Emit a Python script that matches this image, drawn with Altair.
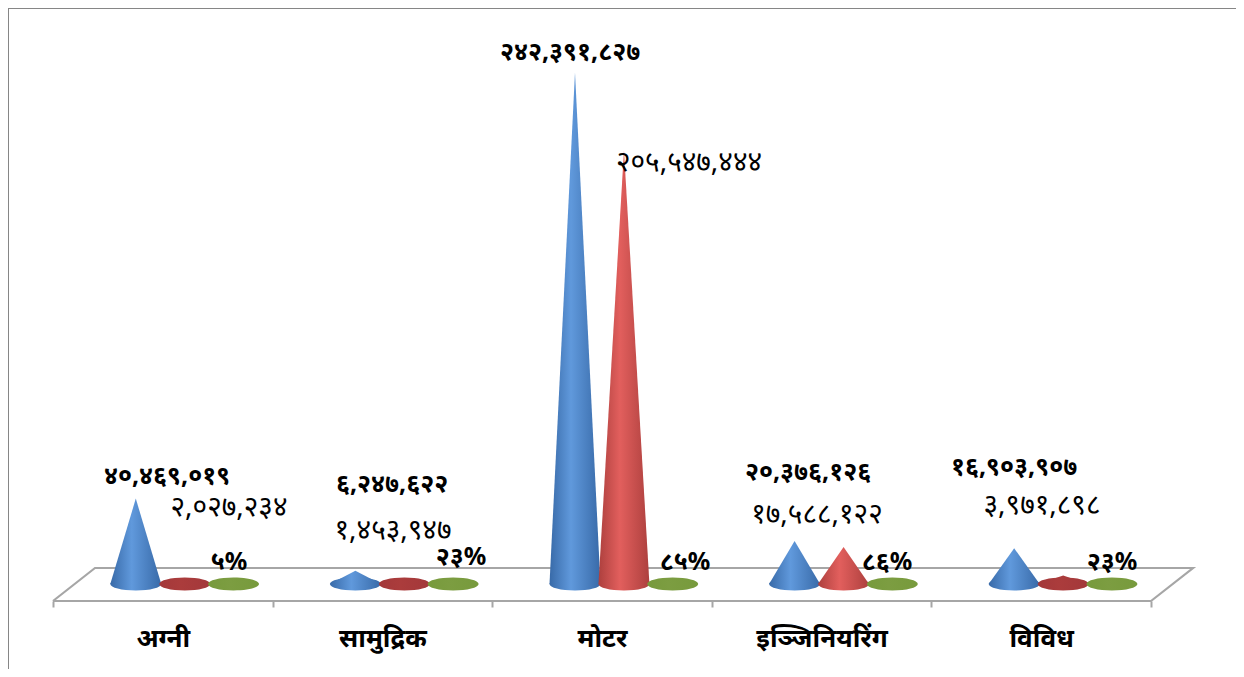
import json
import altair as alt
import pandas as pd

categories = ["अग्नी", "सामुद्रिक", "मोटर", "इञ्जिनियरिंग", "विविध"]
blue_values = [40469019, 6247622, 242391827, 20376126, 16903907]
red_values = [2027234, 1453947, 205547444, 17588122, 3971898]
green_values = [0.05, 0.23, 0.85, 0.86, 0.23]
blue_labels = ["४०,४६९,०१९", "६,२४७,६२२", "२४२,३९१,८२७", "२०,३७६,१२६", "१६,९०३,९०७"]
red_labels = ["२,०२७,२३४", "१,४५३,९४७", "२०५,५४७,४४४", "१७,५८८,१२२", "३,९७१,८९८"]
green_labels = ["५%", "२३%", "८५%", "८६%", "२३%"]

# layout (image pixels -> scale domains)
W, H = 1228, 593
PX_PER_CAT = 219.6
PX_PER_M = 2.11
X0_IMG, BASE_IMG = 53, 584
xdom = [(8 - X0_IMG) / PX_PER_CAT, (8 + W - X0_IMG) / PX_PER_CAT]
ydom = [(BASE_IMG - 601) / PX_PER_M, (BASE_IMG - 8) / PX_PER_M]
x_scale = alt.Scale(domain=xdom, nice=False, zero=False)
y_scale = alt.Scale(domain=ydom, nice=False, zero=False)
SERIES_POS = [0.377, 0.600, 0.822]
HALF = 0.116
GRAY = "#a6a6a6"


def grad(edge, mid):
    return alt.Gradient(
        gradient="linear", x1=0, x2=1, y1=0, y2=0,
        stops=[
            alt.GradientStop(color=edge, offset=0),
            alt.GradientStop(color=mid, offset=0.42),
            alt.GradientStop(color=edge, offset=1),
        ],
    )


BLUE = grad("#386aa8", "#6099dc")
RED = grad("#ad403e", "#e25f5d")
RED_FLAT = grad("#a3383a", "#ab3c3c")
GREEN = grad("#779a3c", "#7c9d41")

series = [
    (blue_values, 1e6, BLUE, blue_labels),
    (red_values, 1e6, RED, red_labels),
    (green_values, 1e6, GREEN, green_labels),
]

axis_vals = [v / 2 for v in range(11)]
label_expr = (
    "datum.value % 1 == 0 ? '' : "
    + json.dumps(categories, ensure_ascii=False)
    + "[floor(datum.value)]"
)
x_axis = alt.Axis(
    values=axis_vals, domain=False, grid=False, title=None,
    tickColor=GRAY, tickWidth=2, tickSize=6,
    tickOpacity={"expr": "datum.value % 1 == 0 ? 1 : 0"},
    labelExpr=label_expr, labelFont="Noto Sans", labelFontSize=26,
    labelFontWeight="bold", labelColor="#000000", labelPadding=18,
    labelOverlap=False, labelFlush=False,
)
x_enc = lambda: alt.X("x:Q", scale=x_scale, axis=x_axis)
y_enc = lambda: alt.Y("y:Q", scale=y_scale, axis=None, stack=None)

# floor of the 3-D plot
floor = pd.DataFrame({
    "x": [0, 5, (1193 - X0_IMG) / PX_PER_CAT, (95 - X0_IMG) / PX_PER_CAT, 0],
    "y": [-17 / PX_PER_M, -17 / PX_PER_M, 16 / PX_PER_M, 16 / PX_PER_M, -17 / PX_PER_M],
    "o": [0, 1, 2, 3, 4],
})
floor_layer = alt.Chart(floor).mark_line(color=GRAY, strokeWidth=2.2, clip=False).encode(
    x=x_enc(), y=y_enc(), order="o:Q",
)

layers = [floor_layer]
for s, (vals, div, fill, _) in enumerate(series):
    for i, v in enumerate(vals):
        c = i + SERIES_POS[s]
        m = v / div
        f = RED_FLAT if (s == 1 and m < 10) else fill
        rows = pd.DataFrame([
            {"x": c - HALF, "y": 0, "b": 0},
            {"x": c, "y": m, "b": 0},
            {"x": c + HALF, "y": 0, "b": 0},
        ])
        ell = alt.Chart(pd.DataFrame([{"x": c, "y": 0}])).mark_point(
            shape="M-1,0A1,0.255,0,1,1,1,0A1,0.255,0,1,1,-1,0Z",
            filled=True, fill=f, opacity=1, strokeWidth=0, size=2600,
        ).encode(x=x_enc(), y=y_enc())
        cone = alt.Chart(rows).mark_area(
            fill=f, orient="vertical", opacity=1,
        ).encode(x=x_enc(), y=y_enc(), y2="b:Q")
        layers += [ell, cone]

# hand-placed data labels: centre of each text in image pixels
blue_at = [(167, 476), (392, 484), (570, 52), (808, 472), (1014, 467)]
red_at = [(229, 508), (393, 531), (689, 163), (817, 515), (1042, 506)]
green_at = [(229, 562), (461, 557), (685, 562), (887, 562), (1112, 562)]
sizes = [25, 28, 25]
for s, (vals, div, _, labels) in enumerate(series):
    at = [blue_at, red_at, green_at][s]
    for i, lab in enumerate(labels):
        cx = i + SERIES_POS[s]
        m = vals[i] / div
        ax_img = X0_IMG + PX_PER_CAT * cx
        ay_img = BASE_IMG - PX_PER_M * m
        t = alt.Chart(pd.DataFrame([{"x": cx, "y": m, "t": lab}])).mark_text(
            font="Noto Sans",
            fontSize=sizes[s],
            fontWeight="normal" if s == 1 else "bold",
            color="#000000",
            align="center",
            baseline="middle",
            clip=False,
            dx=at[i][0] - ax_img,
            dy=at[i][1] - ay_img,
        ).encode(x=x_enc(), y=y_enc(), text="t:N")
        layers.append(t)

# chart frame (top and left edges)
frame_left = alt.Chart(pd.DataFrame({"a": [0]})).mark_rule(color="#868686", strokeWidth=2).encode(
    x=alt.value(0), y=alt.value(0), y2=alt.value(661))
frame_top = alt.Chart(pd.DataFrame({"a": [0]})).mark_rule(color="#868686", strokeWidth=2).encode(
    y=alt.value(0), x=alt.value(0), x2=alt.value(W))
layers += [frame_left, frame_top]

chart = alt.layer(*layers).properties(
    width=W, height=H,
    padding={"left": 0, "top": 0, "right": 0, "bottom": 68},
    autosize=alt.AutoSizeParams(type="none"),
).configure_view(stroke=None)

chart.save("out.html", embed_options={"renderer": "svg", "actions": False})
